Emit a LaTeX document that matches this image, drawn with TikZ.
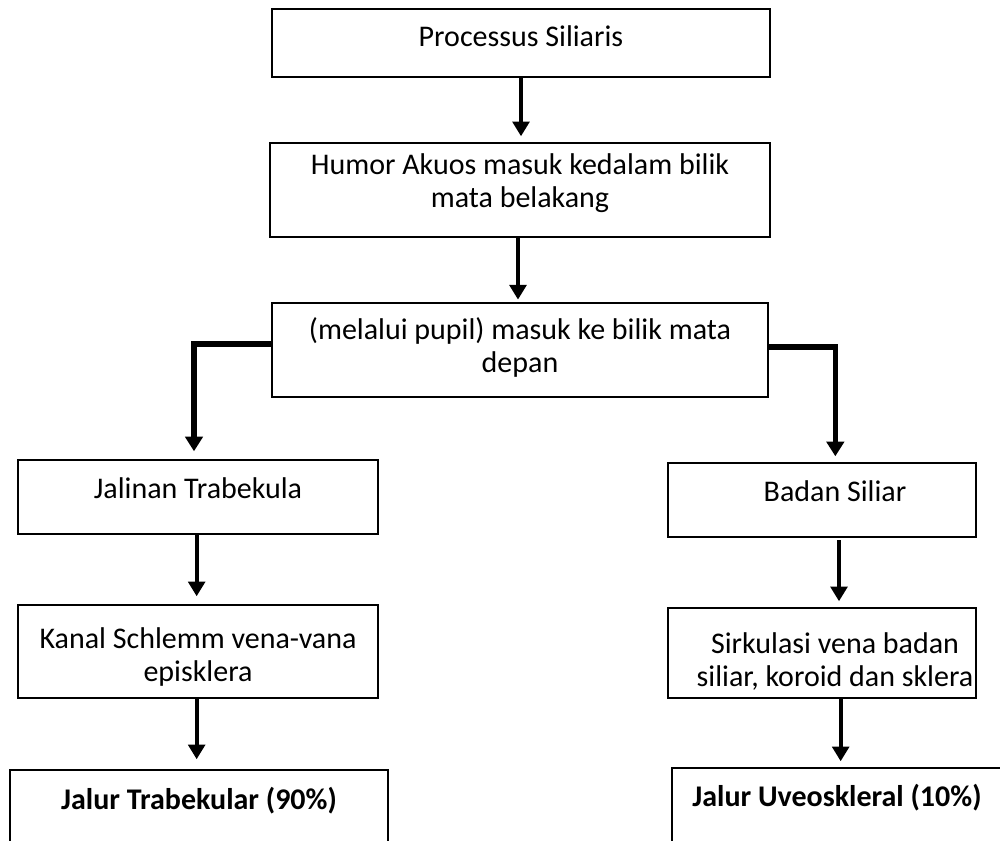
\documentclass[tikz,border=0pt]{standalone}
\usepackage{fontspec}
\setmainfont{Carlito}
\usetikzlibrary{arrows.meta}
\begin{document}
\begin{tikzpicture}[x=0.75pt,y=-0.75pt,
  box/.style={draw=black,line width=1.1pt,rectangle,inner sep=0pt},
  lbl/.style={align=center,font=\fontsize{22.5}{24.75}\selectfont,inner sep=0pt},
  one/.style={text height=16pt,text depth=5pt},
  arr/.style={line width=3.2pt,-{Triangle[width=12.5pt,length=11pt]}},
  elbowarr/.style={line width=4pt,line join=miter,-{Triangle[width=13pt,length=11pt]}}]
\clip (0,0) rectangle (1000,840);
\fill[white] (0,0) rectangle (1000,840);
% boxes
\node[box,minimum width={498*0.75pt},minimum height={68*0.75pt}] (b1) at (521,43) {};
\node[box,minimum width={500*0.75pt},minimum height={94*0.75pt}] (b2) at (520,190) {};
\node[box,minimum width={496*0.75pt},minimum height={94*0.75pt}] (b3) at (520,350) {};
\node[box,minimum width={360*0.75pt},minimum height={74*0.75pt}] (b4) at (198,497) {};
\node[box,minimum width={308*0.75pt},minimum height={74*0.75pt}] (b5) at (822,500) {};
\node[box,minimum width={360*0.75pt},minimum height={93*0.75pt}] (b6) at (198,651.5) {};
\node[box,minimum width={308*0.75pt},minimum height={90*0.75pt}] (b7) at (822,653) {};
\node[box,minimum width={378*0.75pt},minimum height={130*0.75pt}] (b8) at (199,835) {};
\node[box,minimum width={338*0.75pt},minimum height={132*0.75pt}] (b9) at (841,834) {};
% texts
\node[lbl,one] (t1) at (521,39) {Processus Siliaris};
\node[lbl] (t2) at (520,183) {Humor Akuos masuk kedalam bilik\\mata belakang};
\node[lbl] (t3) at (520,347) {(melalui pupil) masuk ke bilik mata\\depan};
\node[lbl,one] (t4) at (198,491) {Jalinan Trabekula};
\node[lbl,one] (t5) at (835,494) {Badan Siliar};
\node[lbl] (t6) at (198,657) {Kanal Schlemm vena-vana\\episklera};
\node[lbl] (t7) at (835,661) {Sirkulasi vena badan\\siliar, koroid dan sklera};
\node[lbl,one,font=\fontsize{22.5}{24.75}\selectfont\bfseries] (t8) at (199,802) {Jalur Trabekular (90\%)};
\node[lbl,one,font=\fontsize{22.5}{24.75}\selectfont\bfseries] (t9) at (837,799) {Jalur Uveoskleral (10\%)};
% connectors
\draw[arr,shorten >=4.5pt] (b1.south) -- (b1.south |- b2.north);
\draw[arr,shorten >=2pt] ([xshift=-1.5pt]b2.south) -- ([xshift=-1.5pt]b2.south |- b3.north);
\draw[elbowarr,shorten >=6pt] ([yshift=4.5pt]b3.west) -| ([xshift=-3pt]b4.north);
\draw[elbowarr,shorten >=4.5pt] ([yshift=2.25pt]b3.east) -| ([xshift=10pt]b5.north);
\draw[arr,shorten >=6pt] ([xshift=-1pt]b4.south) -- ([xshift=-1pt]b4.south |- b6.north);
\draw[arr,shorten >=7.5pt] ([xshift=-1pt]b6.south) -- ([xshift=-1pt]b6.south |- b8.north);
\draw[arr,shorten >=4.5pt,shorten <=2pt] ([xshift=12.75pt]b5.south) -- ([xshift=12.75pt]b5.south |- b7.north);
\draw[arr,shorten >=4.5pt] ([xshift=14pt]b7.south) -- ([xshift=14pt]b7.south |- b9.north);
\end{tikzpicture}
\end{document}
